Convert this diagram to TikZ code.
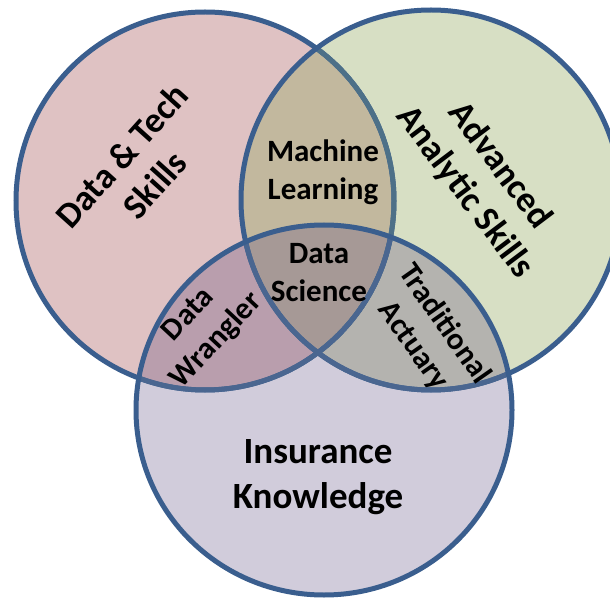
\documentclass[tikz,border=0pt]{standalone}
\usepackage{fontspec}
\setmainfont{Carlito}
\begin{document}
\begin{tikzpicture}[x=1pt,y=1pt,
  edge/.style={line width=5pt,draw=edgeblue},
  lbl/.style={font=\bfseries\fontsize{31}{38}\selectfont,align=center,inner sep=0pt},
  biglbl/.style={font=\bfseries\fontsize{36}{44}\selectfont,align=center,inner sep=0pt}]
\definecolor{edgeblue}{HTML}{3A5E8E}
\definecolor{edgeingreen}{HTML}{4D7088}
\definecolor{edgeinlav}{HTML}{4A6690}
\definecolor{pinkfill}{HTML}{DFC2C3}
\definecolor{greenfill}{HTML}{D7DFC4}
\definecolor{lavfill}{HTML}{D1CCDB}
\definecolor{mlfill}{HTML}{C2B89E}
\definecolor{dwfill}{HTML}{B99EAD}
\definecolor{tafill}{HTML}{B4B3AF}
\definecolor{dsfill}{HTML}{A69996}
\useasboundingbox (0,0) rectangle (610,598);
\clip (0,0) rectangle (610,598);
% circle centres
\coordinate (cA) at (205,397);
\coordinate (cB) at (431,398);
\coordinate (cC) at (324,188);
\def\pathA{(cA) circle [radius=189]}
\def\pathB{(cB) circle [radius=190]}
\def\pathC{(cC) ellipse [x radius=188, y radius=185]}
% single-set fills
\fill[pinkfill] \pathA;
\fill[greenfill] \pathB;
\fill[lavfill] \pathC;
% pairwise overlaps
\begin{scope} \clip \pathA; \fill[mlfill] \pathB; \end{scope}
\begin{scope} \clip \pathA; \fill[dwfill] \pathC; \end{scope}
\begin{scope} \clip \pathB; \fill[tafill] \pathC; \end{scope}
% triple overlap
\begin{scope} \clip \pathA; \clip \pathB; \fill[dsfill] \pathC; \end{scope}
% outlines, slightly tinted where they run under a later circle
\draw[edge] \pathA;
\begin{scope} \clip \pathB; \draw[edge,draw=edgeingreen] \pathA; \end{scope}
\draw[edge] \pathB;
\begin{scope} \clip \pathC; \draw[edge,draw=edgeinlav] \pathA; \draw[edge,draw=edgeinlav] \pathB; \end{scope}
\draw[edge] \pathC;
% labels
\node[biglbl,rotate=48] (dts) at (138,428) {Data \& Tech\\Skills};
\node[biglbl,rotate=-53] (aas) at (482,419) {Advanced\\Analytic Skills};
\node[font=\bfseries\fontsize{37}{45}\selectfont,align=center,inner sep=0pt] (ik) at (318,121) {Insurance\\Knowledge};
\node[lbl] (ml) at (323,426) {Machine\\Learning};
\node[lbl] (ds) at (319,325) {Data\\Science};
\node[lbl,rotate=47] (dw) at (203,270) {Data\\Wrangler};
\node[lbl,rotate=-55] (ta) at (429,263) {Traditional\\Actuary};
\end{tikzpicture}
\end{document}
